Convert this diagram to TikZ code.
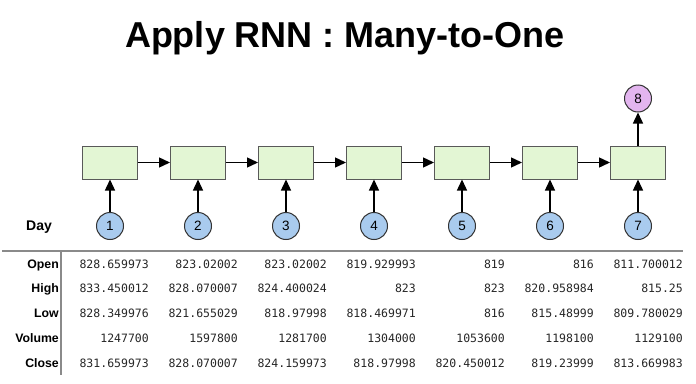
\documentclass[tikz,border=0pt]{standalone}
\usepackage{fontspec}
\setmainfont{Liberation Sans}
\newfontfamily\numfont{DejaVu Sans Mono}
\usetikzlibrary{arrows.meta}

\definecolor{cellgreen}{HTML}{E3F6D4}
\definecolor{inblue}{HTML}{A9CBEE}
\definecolor{outpurple}{HTML}{E3B5EF}
\definecolor{rulegray}{HTML}{8A8A8A}

\tikzset{
  cell/.style={draw=black!65, line width=1pt, fill=cellgreen, minimum width=55pt, minimum height=33pt, inner sep=0pt},
  inbubble/.style={circle, draw=black!80, line width=1pt, fill=inblue, minimum size=27pt, inner sep=0pt, font=\fontsize{13.5}{15}\selectfont},
  outbubble/.style={inbubble, fill=outpurple},
  flow/.style={line width=1.4pt, -{Triangle[length=11pt,width=10pt]}},
  rowlab/.style={anchor=base east, inner sep=0pt, font=\fontsize{12.3}{14}\selectfont\bfseries},
  cellval/.style={anchor=base east, inner sep=0pt, font=\fontsize{11.5}{13}\numfont, text=black!85}
}

\begin{document}
\begin{tikzpicture}[x=1pt, y=-1pt]
\useasboundingbox (0, 0) rectangle (696, 383);
%Title
\node (title) [anchor=base, font=\fontsize{36}{40}\selectfont\bfseries] at (345, 47.5) {Apply RNN : Many-to-One};
%Cells and inputs
\foreach \i in {1,...,7}{
  \node (cell\i) [cell] at (22 + 88*\i, 162.5) {};
  \node (in\i) [inbubble] at (22 + 88*\i, 226) {\i};
  \draw [flow] (in\i) -- (cell\i);
}
\foreach \i [evaluate=\i as \j using int(\i+1)] in {1,...,6}
  \draw [flow] (cell\i) -- (cell\j);
\node (out) [outbubble] at (638, 98.5) {8};
\draw [flow] (cell7) -- (out);
\node (day) [font=\fontsize{14}{16}\selectfont\bfseries] at (39, 227) {Day};
%Table
\coordinate (ruleL) at (2, 251);
\coordinate (ruleR) at (683, 251);
\coordinate (colT) at (61, 251);
\coordinate (colB) at (61, 375);
\draw [rulegray, line width=1.2pt] (ruleL) -- (ruleR);
\draw [rulegray, line width=1.2pt] (colT) -- (colB);
\foreach \lab/\vals [count=\r] in {
  Open/{828.659973,823.02002,823.02002,819.929993,819,816,811.700012},
  High/{833.450012,828.070007,824.400024,823,823,820.958984,815.25},
  Low/{828.349976,821.655029,818.97998,818.469971,816,815.48999,809.780029},
  Volume/{1247700,1597800,1281700,1304000,1053600,1198100,1129100},
  Close/{831.659973,828.070007,824.159973,818.97998,820.450012,819.23999,813.669983}}{
  \node (lab\r) [rowlab] at (59, 243.25 + 24.75*\r) {\lab};
  \foreach \v [count=\c] in \vals
    \node (v\r-\c) [cellval] at (60 + 89*\c, 243.25 + 24.75*\r) {\v};
}
\end{tikzpicture}
\end{document}
